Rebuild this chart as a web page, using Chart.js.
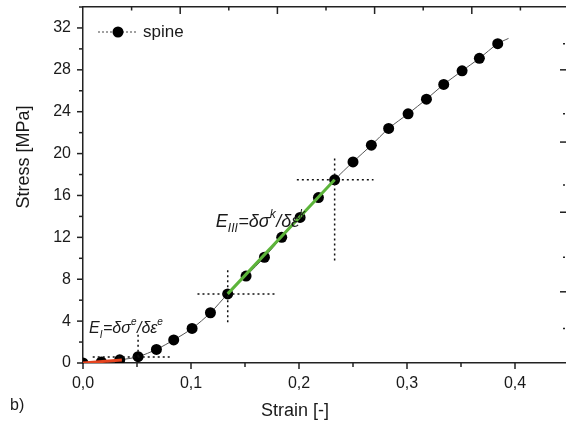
<!DOCTYPE html>
<html>
<head>
<meta charset="utf-8">
<script src="https://cdn.jsdelivr.net/npm/chart.js@4"></script>
<style>
  html, body { margin: 0; padding: 0; background: #fff; overflow: hidden; }
  #wrap { position: relative; width: 580px; height: 425px; }
</style>
</head>
<body>
<div id="wrap"><canvas id="stressChart"></canvas></div>
<script>
// measured spine points
const strain = [0, 0.017, 0.034, 0.051, 0.068, 0.084, 0.101, 0.118, 0.134, 0.151, 0.168, 0.184,
                0.201, 0.218, 0.233, 0.25, 0.267, 0.283, 0.301, 0.318, 0.334, 0.351, 0.367, 0.384];
const stress = [0, 0.1, 0.3, 0.6, 1.3, 2.2, 3.3, 4.8, 6.6, 8.3, 10.1, 12.0,
                13.9, 15.8, 17.5, 19.2, 20.8, 22.4, 23.8, 25.2, 26.6, 27.9, 29.1, 30.5];
// thin curve runs a bit past the last point
const curveEndStrain = 0.394;
const curveEndStress = 31.0;

// modulus segments
const redStrain = [0, 0.036];
const redStress = [0, 0.29];
const greenStrain = [0.134, 0.233];
const greenStress = [6.6, 17.5];

// dotted guide lines (pairs of ends)
const guideStrain = [[0.009, 0.081], [0.051, 0.051], [0.106, 0.18], [0.134, 0.134], [0.198, 0.269], [0.233, 0.233]];
const guideStress = [[0.57, 0.57], [0.6, 2.9], [6.6, 6.6], [3.9, 9.1], [17.5, 17.5], [9.8, 19.8]];

// ticks on the right edge (belong to the next panel)
const rightMajorTicks = [28.0, 21.1, 14.4, 6.8];
const rightMinorTicks = [30.5, 23.8, 17.0, 10.1, 3.3];

const textColor = '#1a1a1a';
const axisColor = '#222';
const fontFamily = '"Liberation Sans", Arial, sans-serif';

function pts(xs, ys) { return xs.map((x, i) => ({ x: x, y: ys[i] })); }

const guideData = [];
guideStrain.forEach((g, i) => {
    guideData.push({ x: g[0], y: guideStress[i][0] });
    guideData.push({ x: g[1], y: guideStress[i][1] });
    guideData.push({ x: g[1], y: null });
});

function isMult(v, step) {
    const r = v / step;
    return Math.abs(r - Math.round(r)) < 1e-6;
}

function noPad(s) {
    s.paddingTop = 0; s.paddingBottom = 0;
    s.paddingLeft = 0; s.paddingRight = 0;
}

// tick marks drawn by hand, so major and minor can have different lengths
const tickMarks = {
    id: 'tickMarks',
    afterDraw(chart) {
        const ctx = chart.ctx;
        const a = chart.chartArea;
        ctx.save();
        ctx.strokeStyle = axisColor;
        ctx.lineWidth = 1.5;
        const line = (x1, y1, x2, y2) => { ctx.beginPath(); ctx.moveTo(x1, y1); ctx.lineTo(x2, y2); ctx.stroke(); };

        chart.scales.x.ticks.forEach(t => {
            const px = chart.scales.x.getPixelForValue(t.value);
            line(px, a.bottom, px, a.bottom + (isMult(t.value, 0.1) ? 6 : 4));
        });
        chart.scales.y.ticks.forEach(t => {
            const py = chart.scales.y.getPixelForValue(t.value);
            line(a.left, py, a.left - (isMult(t.value, 4) ? 6 : 4), py);
        });
        chart.scales.x2.ticks.forEach(t => {
            if (t.value <= 0) return;
            const px = chart.scales.x2.getPixelForValue(t.value);
            line(px, a.top, px, a.top + (isMult(t.value, 0.09) ? 7 : 3.5));
        });
        rightMajorTicks.forEach(v => {
            const py = chart.scales.y2.getPixelForValue(v);
            line(a.right, py, a.right - 9, py);
        });
        rightMinorTicks.forEach(v => {
            const py = chart.scales.y2.getPixelForValue(v);
            line(a.right - 4, py, a.right - 6, py);
        });
        ctx.restore();
    }
};

// writes E with sub/superscripts piece by piece
function drawFormula(ctx, x, y, size, sub, sup) {
    const big = 'italic ' + size + 'px ' + fontFamily;
    const small = 'italic ' + Math.round(size * 0.65) + 'px ' + fontFamily;
    const parts = [
        [big, 'E', 0], [small, sub, size * 0.3], [big, '=\u03b4\u03c3', 0],
        [small, sup, -size * 0.5], [big, '/\u03b4\u03b5', 0], [small, sup, -size * 0.5]
    ];
    parts.forEach(p => {
        ctx.font = p[0];
        ctx.fillText(p[1], x, y + p[2]);
        x += ctx.measureText(p[1]).width + (p[0] === small ? 0.5 : 0);
    });
}

const labelsPlugin = {
    id: 'labelsPlugin',
    afterDraw(chart) {
        const ctx = chart.ctx;
        const a = chart.chartArea;
        const xs = chart.scales.x, ys = chart.scales.y;
        ctx.save();
        ctx.fillStyle = textColor;
        ctx.textBaseline = 'alphabetic';
        ctx.textAlign = 'left';

        drawFormula(ctx, xs.getPixelForValue(0.0056), ys.getPixelForValue(2.85), 16, 'I', 'e');
        drawFormula(ctx, xs.getPixelForValue(0.123), ys.getPixelForValue(13.0), 18, 'III', 'k');

        // legend
        const ly = a.top + 25;
        const lx = a.left + 15;
        ctx.strokeStyle = '#444';
        ctx.lineWidth = 1;
        ctx.setLineDash([2, 2]);
        ctx.beginPath(); ctx.moveTo(lx, ly); ctx.lineTo(lx + 40, ly); ctx.stroke();
        ctx.setLineDash([]);
        ctx.fillStyle = '#000';
        ctx.beginPath(); ctx.arc(lx + 20, ly, 5.5, 0, Math.PI * 2); ctx.fill();
        ctx.fillStyle = textColor;
        ctx.font = '17px ' + fontFamily;
        ctx.textBaseline = 'middle';
        ctx.fillText('spine', lx + 45, ly);

        // axis titles
        ctx.font = '18px ' + fontFamily;
        ctx.textAlign = 'center';
        ctx.fillText('Strain [-]', 295, 411);
        ctx.save();
        ctx.translate(24, 157);
        ctx.rotate(-Math.PI / 2);
        ctx.fillText('Stress [MPa]', 0, 0);
        ctx.restore();

        ctx.font = '16px ' + fontFamily;
        ctx.textAlign = 'left';
        ctx.fillText('b)', 10, 406);
        ctx.restore();
    }
};

new Chart(document.getElementById('stressChart'), {
    type: 'scatter',
    data: {
        datasets: [
            {
                label: 'curve',
                data: pts(strain.concat([curveEndStrain]), stress.concat([curveEndStress])),
                showLine: true,
                borderColor: '#555',
                borderWidth: 1,
                pointRadius: 0,
                tension: 0.3,
                order: 5
            },
            {
                label: 'spine',
                data: pts(strain, stress),
                showLine: false,
                pointRadius: 5.5,
                pointBackgroundColor: '#000',
                pointBorderColor: '#000',
                pointBorderWidth: 0,
                order: 4
            },
            {
                label: 'guides',
                data: guideData,
                showLine: true,
                spanGaps: false,
                borderColor: '#111',
                borderWidth: 1.5,
                borderDash: [2, 3],
                pointRadius: 0,
                order: 3
            },
            {
                label: 'E_I',
                data: pts(redStrain, redStress),
                showLine: true,
                borderColor: '#e5431e',
                borderWidth: 3,
                pointRadius: 0,
                order: 1
            },
            {
                label: 'E_III',
                data: pts(greenStrain, greenStress),
                showLine: true,
                borderColor: '#5cb43a',
                borderWidth: 3,
                pointRadius: 0,
                order: 1
            }
        ]
    },
    options: {
        responsive: true,
        maintainAspectRatio: false,
        animation: false,
        layout: { padding: 0 },
        plugins: { legend: { display: false }, tooltip: { enabled: false } },
        scales: {
            x: {
                type: 'linear',
                position: 'bottom',
                min: 0,
                max: 0.45,
                afterFit(s) { s.height = 62; noPad(s); },
                grid: { display: false, drawTicks: false },
                border: { display: true, color: axisColor, width: 1.5 },
                ticks: {
                    stepSize: 0.05,
                    autoSkip: false,
                    maxRotation: 0,
                    padding: 11,
                    color: textColor,
                    font: { size: 16, family: fontFamily },
                    callback: v => isMult(v, 0.1) ? v.toFixed(1).replace('.', ',') : ''
                }
            },
            y: {
                type: 'linear',
                position: 'left',
                min: 0,
                max: 34,
                afterFit(s) { s.width = 83; noPad(s); },
                grid: { display: false, drawTicks: false },
                border: { display: true, color: axisColor, width: 1.5 },
                ticks: {
                    stepSize: 2,
                    autoSkip: false,
                    padding: 12,
                    color: textColor,
                    font: { size: 16, family: fontFamily },
                    callback: v => isMult(v, 4) ? String(v) : ''
                }
            },
            x2: {
                type: 'linear',
                position: 'top',
                min: 0,
                max: 0.45,
                afterFit(s) { s.height = 7; noPad(s); },
                grid: { display: false, drawTicks: false },
                border: { display: true, color: axisColor, width: 1.5 },
                ticks: { display: false, stepSize: 0.045, autoSkip: false }
            },
            y2: {
                type: 'linear',
                position: 'right',
                min: 0,
                max: 34,
                afterFit(s) { s.width = 11; noPad(s); },
                grid: { display: false, drawTicks: false },
                border: { display: true, color: axisColor, width: 1.5 },
                ticks: { display: false }
            }
        }
    },
    plugins: [tickMarks, labelsPlugin]
});
</script>
</body>
</html>
